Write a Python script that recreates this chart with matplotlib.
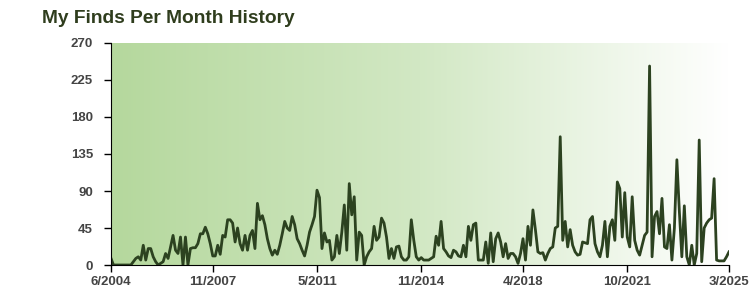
# My Finds Per Month History - monthly line chart
import numpy as np
import matplotlib
matplotlib.use("Agg")
import matplotlib.pyplot as plt
from matplotlib.colors import LinearSegmentedColormap

# data: one value per month, 6/2004 .. 3/2025
finds_2004_2010 = [8, 0, 0, 0, 0, 0, 0, 0, 0, 4, 8, 10, 6, 24, 6, 20, 20, 10, 4, 0,
                   2, 4, 14, 8, 22, 36, 18, 14, 34, 0, 34, 0, 20, 21, 21, 26, 38, 38, 46, 38,
                   26, 11, 11, 24, 13, 36, 34, 55, 55, 51, 28, 45, 26, 18, 36, 18, 36, 42, 20, 75,
                   55, 60, 49, 32, 20, 12, 18, 13, 24, 38, 53, 45, 42, 59, 49, 32, 26, 18, 11, 24,
                   40, 49, 59, 91]
finds_2011_2017 = [82, 20, 39, 28, 30, 6, 10, 36, 14, 40, 73, 18, 99, 61, 83, 6, 40, 36, 0, 10,
                   16, 20, 47, 30, 34, 57, 51, 34, 8, 20, 8, 22, 23, 10, 6, 6, 10, 55, 30, 10,
                   6, 9, 6, 6, 6, 8, 10, 35, 24, 53, 20, 16, 11, 9, 18, 16, 11, 10, 24, 10,
                   47, 30, 49, 51, 6, 6, 6, 28, 2, 39, 4, 32, 39, 28, 10, 26, 8, 14, 14, 10,
                   2, 14]
finds_2018_2025 = [32, 6, 47, 24, 67, 43, 16, 14, 15, 6, 14, 20, 22, 45, 47, 156, 30, 53, 22, 43,
                   24, 16, 12, 13, 28, 27, 26, 55, 59, 26, 16, 10, 24, 53, 10, 47, 55, 30, 101, 93,
                   34, 88, 34, 22, 83, 30, 18, 12, 24, 36, 40, 242, 10, 59, 65, 38, 81, 22, 20, 49,
                   6, 45, 128, 65, 10, 72, 10, 0, 24, 0, 14, 152, 4, 45, 51, 55, 57, 105, 6, 5,
                   5, 5, 10, 16]
finds = finds_2004_2010 + finds_2011_2017 + finds_2018_2025

tick_labels = ["6/2004", "11/2007", "5/2011", "11/2014", "4/2018", "10/2021", "3/2025"]
y_ticks = [0, 45, 90, 135, 180, 225, 270]

months = np.arange(len(finds))
# tick position = months since the first label
tick_pos = []
for lab in tick_labels:
    m, y = lab.split("/")
    tick_pos.append((int(y) - 2004) * 12 + int(m) - 6)

plt.rcParams["font.family"] = ["Liberation Sans", "DejaVu Sans"]

fig = plt.figure(figsize=(7.5, 3.03), dpi=100)
ax = fig.add_axes([0.148, 0.1254, 0.824, 0.7327])

# green-to-white background gradient
cmap = LinearSegmentedColormap.from_list("bg", ["#b5d89d", "#d2e8c4", "#ffffff"])
grad = np.linspace(0, 1, 256).reshape(1, -1)
ax.imshow(grad, cmap=cmap, aspect="auto", extent=[0, len(finds) - 1, 0, 270], zorder=0)

ax.plot(months, finds, color="#2c4220", linewidth=2, zorder=2)

ax.set_xlim(0, len(finds) - 1)
ax.set_ylim(0, 270)
ax.set_xticks(tick_pos)
ax.set_xticklabels(tick_labels)
ax.set_yticks(y_ticks)
ax.set_yticklabels([str(v) for v in y_ticks])
for lbl in ax.get_xticklabels() + ax.get_yticklabels():
    lbl.set_fontweight("bold")
    lbl.set_color("#444444")
    lbl.set_fontsize(9.5)
ax.tick_params(axis="both", direction="out", length=5, width=1, color="black")
ax.tick_params(axis="y", pad=8)
ax.tick_params(axis="x", pad=3)

ax.spines["top"].set_visible(False)
ax.spines["right"].set_visible(False)
ax.spines["left"].set_color("black")
ax.spines["bottom"].set_color("black")

fig.text(0.056, 0.94, "My Finds Per Month History", fontsize=13.8, fontweight="bold",
         color="#2f3d1d", ha="left", va="center")

fig.savefig("out.png", dpi=100)
